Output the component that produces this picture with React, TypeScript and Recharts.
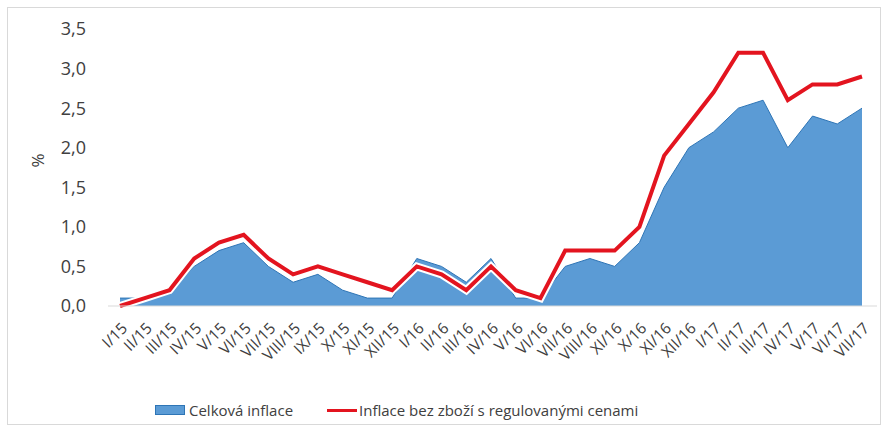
import { ComposedChart, Area, Line, XAxis, YAxis, Legend } from "recharts";

const MONTHS = [
  "I/15", "II/15", "III/15", "IV/15", "V/15", "VI/15", "VII/15", "VIII/15", "IX/15", "X/15", "XI/15", "XII/15",
  "I/16", "II/16", "III/16", "IV/16", "V/16", "VI/16", "VII/16", "VIII/16", "XI/16", "X/16", "XI/16", "XII/16",
  "I/17", "II/17", "III/17", "IV/17", "V/17", "VI/17", "VII/17",
];

const CELKOVA = [
  0.1, 0.1, 0.2, 0.5, 0.7, 0.8, 0.5, 0.3, 0.4, 0.2, 0.1, 0.1,
  0.6, 0.5, 0.3, 0.6, 0.1, 0.1, 0.5, 0.6, 0.5, 0.8, 1.5, 2.0,
  2.2, 2.5, 2.6, 2.0, 2.4, 2.3, 2.5,
];

const BEZ_REGUL = [
  0.0, 0.1, 0.2, 0.6, 0.8, 0.9, 0.6, 0.4, 0.5, 0.4, 0.3, 0.2,
  0.5, 0.4, 0.2, 0.5, 0.2, 0.1, 0.7, 0.7, 0.7, 1.0, 1.9, 2.3,
  2.7, 3.2, 3.2, 2.6, 2.8, 2.8, 2.9,
];

const Y_TICKS = [0, 0.5, 1, 1.5, 2, 2.5, 3, 3.5];

const data = MONTHS.map((m, i) => ({ idx: i, month: m, celkova: CELKOVA[i], bez: BEZ_REGUL[i] }));

const FONT = "'Open Sans', 'Noto Sans', sans-serif";
const TEXT = "#404040";

function MonthTick(props: any) {
  const { x, y, payload } = props;
  const ax = x + 4;
  const ay = y + 11;
  return (
    <text
      x={ax}
      y={ay}
      transform={`rotate(-45, ${ax}, ${ay})`}
      textAnchor="end"
      dominantBaseline="central"
      fontSize={15.5}
      fill={TEXT}
      fontFamily={FONT}
    >
      {MONTHS[payload.value]}
    </text>
  );
}

function LegendContent() {
  return (
    <div
      style={{
        height: 26,
        display: "flex",
        alignItems: "center",
        paddingLeft: 135,
        fontFamily: FONT,
        fontSize: 15,
        color: TEXT,
      }}
    >
      <span style={{ display: "flex", alignItems: "center" }}>
        <span style={{ width: 28, height: 8, background: "#5b9bd5", border: "1px solid #2e75b6", marginRight: 4 }} />
        Celková inflace
      </span>
      <span style={{ display: "flex", alignItems: "center", marginLeft: 34 }}>
        <span style={{ width: 30, height: 3, background: "#e3141f", marginRight: 2 }} />
        Inflace bez zboží s regulovanými cenami
      </span>
    </div>
  );
}

export default function App() {
  return (
    <div
      style={{
        position: "fixed",
        left: 0,
        top: 0,
        width: 889,
        height: 433,
        background: "#fff",
      }}
    >
      <div
        style={{
          position: "absolute",
          left: 7,
          top: 7,
          width: 872,
          height: 416,
          border: "1px solid #d9d9d9",
        }}
      />
      <ComposedChart
        width={889}
        height={433}
        data={data}
        margin={{ top: 29, right: 12, bottom: 10, left: 20 }}
        style={{ position: "absolute", left: 0, top: 0 }}
      >
        <XAxis
          dataKey="idx"
          type="category"
          interval={0}
          tick={<MonthTick />}
          tickLine={false}
          axisLine={{ stroke: "#d9d9d9" }}
          padding={{ left: 12, right: 15 }}
          height={91}
        />
        <YAxis
          domain={[0, 3.5]}
          ticks={Y_TICKS}
          tickFormatter={(v) => v.toFixed(1).replace(".", ",")}
          tick={{ fontSize: 18, fill: TEXT, fontFamily: FONT }}
          tickLine={false}
          axisLine={false}
          width={88}
          tickMargin={16}
          label={{
            value: "%",
            angle: -90,
            position: "insideLeft",
            offset: 18,
            style: { fontSize: 17, fill: TEXT, fontFamily: FONT },
          }}
        />
        <Legend verticalAlign="bottom" content={<LegendContent />} />
        <Area
          type="linear"
          dataKey="celkova"
          stroke="#2e75b6"
          strokeWidth={1}
          fill="#5b9bd5"
          fillOpacity={1}
          isAnimationActive={false}
        />
        <Line
          type="linear"
          dataKey="bez"
          stroke="#ffffff"
          strokeWidth={8}
          dot={false}
          activeDot={false}
          legendType="none"
          isAnimationActive={false}
        />
        <Line
          type="linear"
          dataKey="bez"
          stroke="#e3141f"
          strokeWidth={4}
          dot={false}
          activeDot={false}
          isAnimationActive={false}
        />
      </ComposedChart>
    </div>
  );
}
